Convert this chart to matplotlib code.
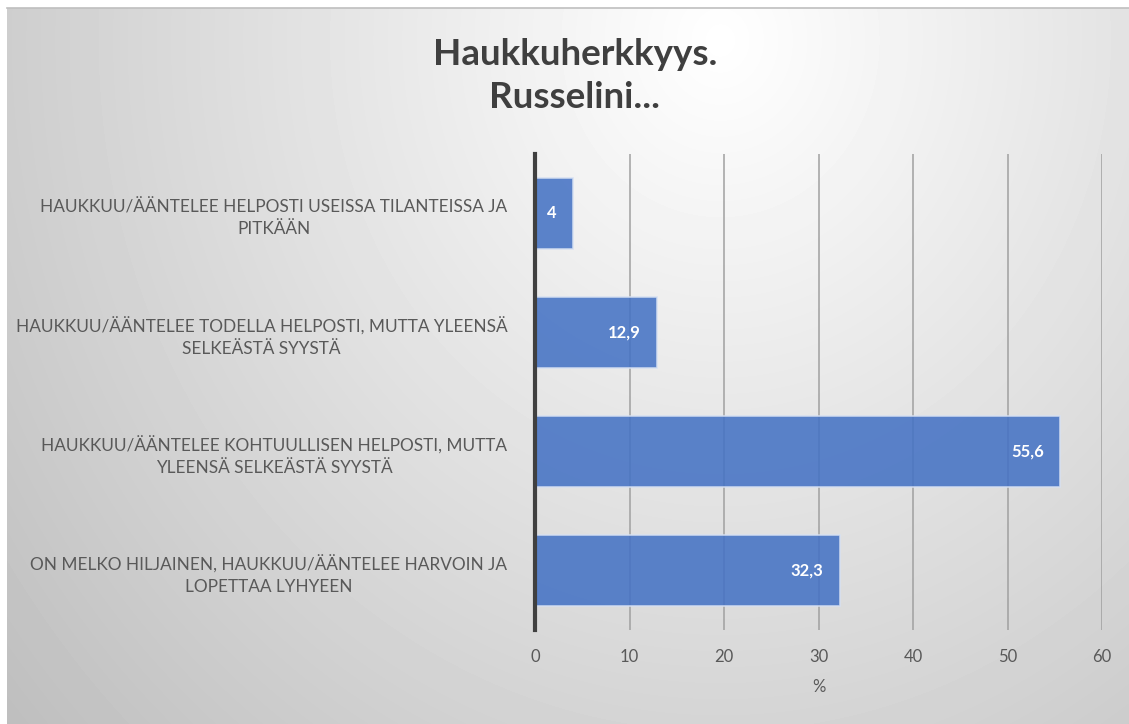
import numpy as np
import matplotlib
matplotlib.use("Agg")
import matplotlib.pyplot as plt

# data (top to bottom as shown)
categories = [
    "HAUKKUU/ÄÄNTELEE HELPOSTI USEISSA TILANTEISSA JA\nPITKÄÄN",
    "HAUKKUU/ÄÄNTELEE TODELLA HELPOSTI, MUTTA YLEENSÄ\nSELKEÄSTÄ SYYSTÄ",
    "HAUKKUU/ÄÄNTELEE KOHTUULLISEN HELPOSTI, MUTTA\nYLEENSÄ SELKEÄSTÄ SYYSTÄ",
    "ON MELKO HILJAINEN, HAUKKUU/ÄÄNTELEE HARVOIN JA\nLOPETTAA LYHYEEN",
]
values = [4, 12.9, 55.6, 32.3]
xticks = [0, 10, 20, 30, 40, 50, 60]

plt.rcParams['font.family'] = ['Lato', 'DejaVu Sans']

W, H = 1129, 724
fig = plt.figure(figsize=(W / 100, H / 100), dpi=100)
fig.patch.set_facecolor('white')

# background gradient panel
bg = fig.add_axes([7 / W, 0, 1 - 7 / W, 1 - 8 / H])
xx, yy = np.meshgrid(np.arange(7, W), np.arange(8, H))
d = np.sqrt(((xx - 720) / 900.0) ** 2 + ((yy - 40) / 1000.0) ** 2)
shade = np.clip(255 - 62 * d, 0, 255) / 255.0
bg.imshow(shade, cmap='gray', vmin=0, vmax=1, aspect='auto', interpolation='bilinear')
bg.set_xticks([])
bg.set_yticks([])
for s in ['left', 'right', 'bottom']:
    bg.spines[s].set_visible(False)
bg.spines['top'].set_color('#bfbfbf')
bg.spines['top'].set_linewidth(1.2)

ax = fig.add_axes([535 / W, 1 - 630 / H, (1102 - 535) / W, (630 - 154) / H])
ax.patch.set_alpha(0)

y = np.arange(len(categories))
bars = ax.barh(y, values, height=0.6, color='#4472C4', alpha=0.87,
               edgecolor='#d6e0f2', linewidth=1.2, zorder=3)
ax.set_ylim(len(categories) - 0.5, -0.5)
ax.set_xlim(0, 60)
ax.set_xticks(xticks)
ax.set_xticklabels([str(t) for t in xticks], fontsize=12, color='#595959')
ax.set_yticks(y)
ax.set_yticklabels(categories, fontsize=12.4, color='#595959')
for lab in ax.get_yticklabels():
    lab.set_multialignment('center')
    lab.set_linespacing(1.45)
ax.tick_params(axis='y', length=0, pad=20)
ax.tick_params(axis='x', length=0, pad=14)
ax.xaxis.grid(True, color='#a0a0a0', linewidth=1.1, zorder=1)
ax.set_axisbelow(True)
for s in ['top', 'right', 'bottom']:
    ax.spines[s].set_visible(False)
ax.spines['left'].set_color('#404040')
ax.spines['left'].set_linewidth(3)
ax.spines['left'].set_zorder(4)

ax.set_xlabel('%', fontsize=12, color='#595959', labelpad=10)

for yi, v in zip(y, values):
    txt = ('%g' % v).replace('.', ',')
    ax.annotate(txt, xy=(v, yi), xytext=(-12, 0), textcoords='offset points',
                ha='right', va='center', color='white', fontsize=12,
                fontweight='bold', zorder=5)

fig.text(575 / W, 1 - 76 / H, 'Haukkuherkkyys.\nRusselini...', ha='center',
         va='center', fontsize=26.5, fontweight='bold', color='#3f3f3f',
         linespacing=1.4)

fig.savefig('out.png', dpi=100)
